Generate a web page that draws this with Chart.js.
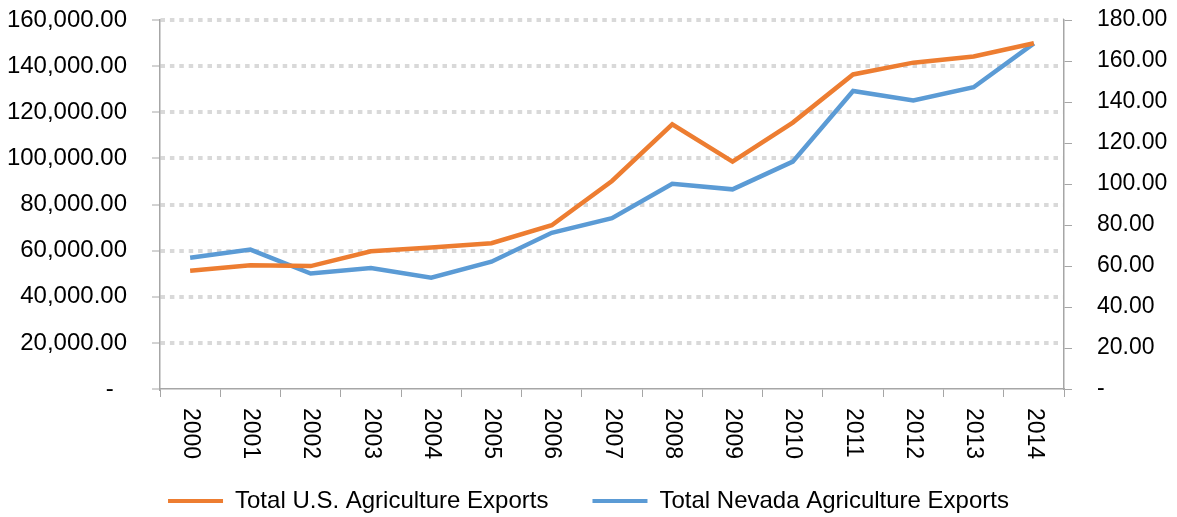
<!DOCTYPE html>
<html>
<head>
<meta charset="utf-8">
<title>Total U.S. vs Nevada Agriculture Exports</title>
<script src="https://cdn.jsdelivr.net/npm/chart.js@4.4.1/dist/chart.umd.min.js"></script>
<style>
  html, body { margin: 0; padding: 0; background: #fff; }
  #wrap { position: relative; width: 1177px; height: 517px; }
</style>
</head>
<body>
<div id="wrap"><canvas id="chart"></canvas></div>
<script>
/* ── Data ──────────────────────────────────────────────── */
const YEARS = ['2000', '2001', '2002', '2003', '2004', '2005', '2006', '2007',
               '2008', '2009', '2010', '2011', '2012', '2013', '2014'];

// left axis
const US_EXPORTS = [51300, 53700, 53300, 59700, 61400, 63200, 71000, 90200,
                    114800, 98600, 115500, 136400, 141500, 144200, 149900];

// right axis
const NV_EXPORTS = [64.0, 68.0, 56.3, 59.0, 54.3, 62.1, 76.2, 83.3,
                    100.1, 97.4, 110.9, 145.4, 140.8, 147.2, 168.6];

const SERIES_NAMES = ['Total U.S. Agriculture Exports', 'Total Nevada Agriculture Exports'];

const LEFT_MAX  = 160000, LEFT_STEP  = 20000;
const RIGHT_MAX = 180,    RIGHT_STEP = 20;

/* ── Styles ────────────────────────────────────────────── */
const FONT      = "'Liberation Sans', Arial, sans-serif";
const TEXT      = '#000';
const ORANGE    = '#ED7D31';
const BLUE      = '#5B9BD5';
const AXIS_GRAY = '#a6a6a6';
const GRID_GRAY = '#d9d9d9';

const fmtLeft  = v => v === 0 ? '-  ' : v.toLocaleString('en-US', { minimumFractionDigits: 2, maximumFractionDigits: 2 });
const fmtRight = v => v === 0 ? '-' : v.toFixed(2);

// the big tick padding would otherwise push the plot top down
function fitVertical(width) {
  return scale => {
    scale.width = width;
    scale.paddingTop = 20;
    scale.paddingBottom = 0;
  };
}

// year labels read top-to-bottom (rotated clockwise), which the library can't do on its own
const yearLabels = {
  id: 'yearLabels',
  afterDraw(chart) {
    const xs = chart.scales.x, ctx = chart.ctx;
    ctx.save();
    ctx.font = `23px ${FONT}`;
    ctx.fillStyle = TEXT;
    ctx.textAlign = 'left';
    ctx.textBaseline = 'middle';
    YEARS.forEach((yr, i) => {
      ctx.save();
      ctx.translate(xs.getPixelForValue(i), xs.top + 19);
      ctx.rotate(Math.PI / 2);
      ctx.fillText(yr, 0, 0);
      ctx.restore();
    });
    ctx.restore();
  }
};

new Chart(document.getElementById('chart'), {
  type: 'line',
  data: {
    labels: YEARS,
    datasets: [
      {
        label: SERIES_NAMES[0],
        data: US_EXPORTS,
        yAxisID: 'y',
        borderColor: ORANGE,
        backgroundColor: ORANGE,
        borderWidth: 4.5,
        pointRadius: 0,
        tension: 0,
      },
      {
        label: SERIES_NAMES[1],
        data: NV_EXPORTS,
        yAxisID: 'y1',
        borderColor: BLUE,
        backgroundColor: BLUE,
        borderWidth: 4.5,
        pointRadius: 0,
        tension: 0,
      },
    ],
  },
  options: {
    responsive: true,
    maintainAspectRatio: false,
    animation: false,
    layout: { padding: { top: 0, left: 0, right: 0, bottom: -6 } },
    plugins: {
      tooltip: { enabled: false },
      legend: {
        position: 'bottom',
        labels: {
          font: { family: FONT, size: 24 },
          color: TEXT,
          boxWidth: 55,
          boxHeight: 4,
          padding: 44,
          generateLabels(chart) {
            return Chart.defaults.plugins.legend.labels.generateLabels(chart)
              .map(l => ({ ...l, lineWidth: 0, fillStyle: l.strokeStyle }));
          },
        },
      },
    },
    scales: {
      x: {
        offset: true,
        grid: {
          offset: true,
          drawOnChartArea: false,
          tickLength: 8,
          tickColor: AXIS_GRAY,
          tickWidth: 1,
        },
        border: { color: AXIS_GRAY, width: 1.5 },
        ticks: { display: false },
        afterFit(scale) { scale.height = 56; },
      },
      y: {
        position: 'left',
        min: 0,
        max: LEFT_MAX,
        ticks: {
          stepSize: LEFT_STEP,
          padding: 25,
          color: TEXT,
          font: { family: FONT, size: 24 },
          callback: fmtLeft,
        },
        grid: {
          color: c => c.tick && c.tick.value === 0 ? 'rgba(0,0,0,0)' : GRID_GRAY,
          lineWidth: 4,
          tickLength: 8,
          tickColor: AXIS_GRAY,
          tickWidth: 1,
          tickBorderDash: [],
        },
        border: { color: AXIS_GRAY, width: 1.5, dash: [4.5, 4.9] },
        afterFit: fitVertical(160),
      },
      y1: {
        position: 'right',
        min: 0,
        max: RIGHT_MAX,
        ticks: {
          stepSize: RIGHT_STEP,
          padding: 25,
          color: TEXT,
          font: { family: FONT, size: 23 },
          callback: fmtRight,
        },
        grid: {
          drawOnChartArea: false,
          tickLength: 8,
          tickColor: AXIS_GRAY,
          tickWidth: 1,
        },
        border: { color: AXIS_GRAY, width: 1.5 },
        afterFit: fitVertical(113),
      },
    },
  },
  plugins: [yearLabels],
});
</script>
</body>
</html>
